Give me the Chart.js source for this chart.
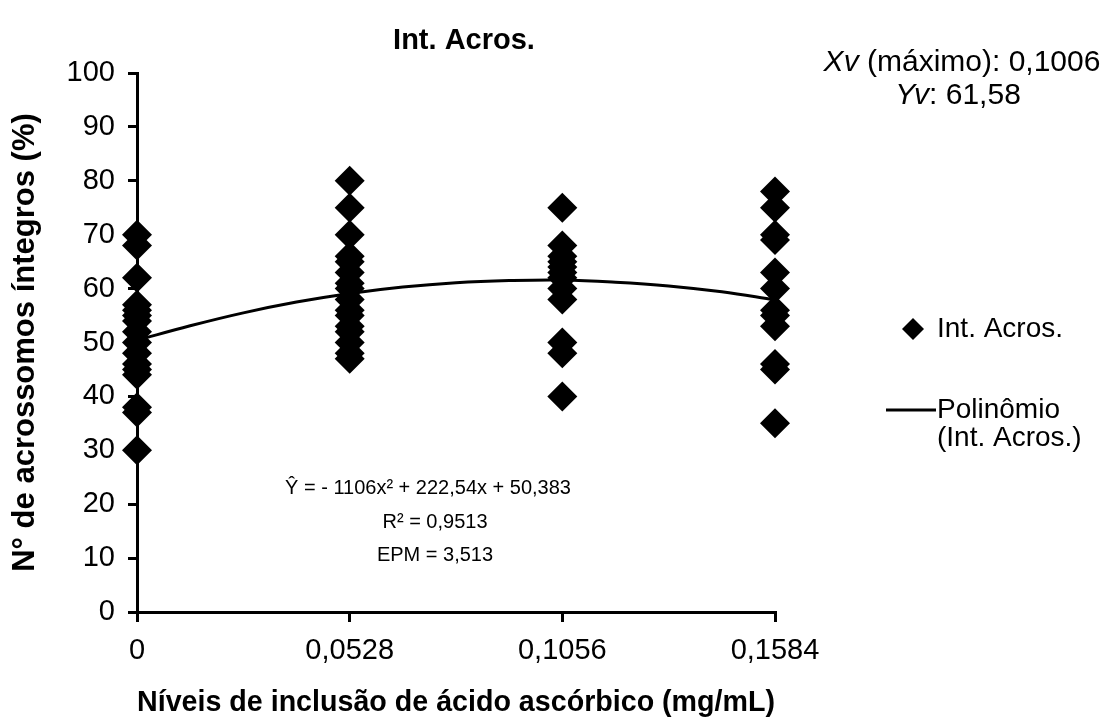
<!DOCTYPE html>
<html>
<head>
<meta charset="utf-8">
<script src="https://cdn.jsdelivr.net/npm/chart.js@4.4.1/dist/chart.umd.min.js"></script>
<style>
  html, body { margin: 0; padding: 0; background: #fff; }
</style>
</head>
<body>
<canvas id="chart" width="1114" height="720"></canvas>
<script>
// doses (mg/mL) and their tick labels
const doses = [0, 0.0528, 0.1056, 0.1584];
const doseLabels = ['0', '0,0528', '0,1056', '0,1584'];

// % intact acrosomes read per dose
const intAcros0 = [70, 68, 62, 57, 56, 55, 54, 52, 50, 48, 46, 45, 44, 38, 37, 30];
const intAcros1 = [80, 75, 70, 66, 65, 63, 61, 60, 58, 56, 55, 53, 52, 50, 48, 47];
const intAcros2 = [75, 68, 66, 65, 64, 63, 62, 60, 58, 50, 48, 40];
const intAcros3 = [78, 75, 70, 69, 63, 60, 56, 55, 53, 46, 45, 35];

// fitted curve
const trendX = [0, 0.0132, 0.0264, 0.0396, 0.0528, 0.066, 0.0792, 0.0924, 0.1056, 0.1188, 0.132, 0.1452, 0.1584];
const trendY = [50.4, 53.1, 55.5, 57.5, 59.1, 60.3, 61.1, 61.5, 61.6, 61.2, 60.5, 59.4, 57.9];

const FONT = '"Liberation Sans", Arial, sans-serif';
Chart.defaults.font.family = FONT;
Chart.defaults.color = '#000';

const groups = [intAcros0, intAcros1, intAcros2, intAcros3];
const points = [];
groups.forEach((vals, i) => {
  vals.forEach((v) => points.push({ x: doses[i], y: v }));
});

const annotations = {
  id: 'annotations',
  afterDraw(chart) {
    const { ctx } = chart;
    const y = chart.scales.y;
    ctx.save();
    ctx.fillStyle = '#000';
    ctx.strokeStyle = '#000';
    ctx.textBaseline = 'middle';

    // title
    ctx.font = 'bold 29px ' + FONT;
    ctx.textAlign = 'center';
    ctx.fillText('Int. Acros.', 464, y.getPixelForValue(106));

    // vertex of the parabola, italic prefix
    const mixed = (italic, rest, cx, py) => {
      ctx.font = 'italic 30px ' + FONT;
      const w1 = ctx.measureText(italic).width;
      ctx.font = '30px ' + FONT;
      const w2 = ctx.measureText(rest).width;
      const x0 = cx - (w1 + w2) / 2;
      ctx.textAlign = 'left';
      ctx.font = 'italic 30px ' + FONT;
      ctx.fillText(italic, x0, py);
      ctx.font = '30px ' + FONT;
      ctx.fillText(rest, x0 + w1, py);
    };
    mixed('Xv', ' (máximo): 0,1006', 962, y.getPixelForValue(101.9));
    mixed('Yv', ': 61,58', 958, y.getPixelForValue(95.8));

    // equation
    ctx.font = '20px ' + FONT;
    ctx.textAlign = 'center';
    ctx.fillText('Ŷ = - 1106x² + 222,54x + 50,383', 428, y.getPixelForValue(22.9));
    ctx.fillText('R² = 0,9513', 435, y.getPixelForValue(16.6));
    ctx.fillText('EPM = 3,513', 435, y.getPixelForValue(10.5));

    // legend
    const ly1 = y.getPixelForValue(52.5);
    ctx.beginPath();
    ctx.moveTo(913 - 11, ly1);
    ctx.lineTo(913, ly1 - 11);
    ctx.lineTo(913 + 11, ly1);
    ctx.lineTo(913, ly1 + 11);
    ctx.closePath();
    ctx.fill();
    ctx.font = '28px ' + FONT;
    ctx.textAlign = 'left';
    ctx.fillText('Int. Acros.', 937, ly1);

    const ly2 = y.getPixelForValue(37.5);
    ctx.lineWidth = 3;
    ctx.beginPath();
    ctx.moveTo(886, ly2);
    ctx.lineTo(936, ly2);
    ctx.stroke();
    ctx.fillText('Polinômio', 937, ly2);
    ctx.fillText('(Int. Acros.)', 937, y.getPixelForValue(32.3));
    ctx.restore();
  }
};

new Chart(document.getElementById('chart'), {
  type: 'scatter',
  data: {
    datasets: [
      {
        label: 'Int. Acros.',
        data: points,
        pointStyle: 'rectRot',
        pointRadius: 15,
        pointHoverRadius: 15,
        backgroundColor: '#000',
        borderColor: '#000',
        borderWidth: 0,
        clip: false,
        order: 0,
      },
      {
        type: 'line',
        label: 'Polinômio (Int. Acros.)',
        data: trendX.map((x, i) => ({ x, y: trendY[i] })),
        borderColor: '#000',
        borderWidth: 3,
        pointRadius: 0,
        tension: 0.4,
        fill: false,
        clip: false,
        order: 1,
      },
    ],
  },
  options: {
    responsive: false,
    animation: false,
    events: [],
    layout: { padding: { left: 0, right: 339, top: 73, bottom: 0 } },
    plugins: {
      legend: { display: false },
      tooltip: { enabled: false },
    },
    scales: {
      x: {
        type: 'linear',
        min: 0,
        max: 0.1584,
        afterBuildTicks: (s) => { s.ticks = doses.map((v) => ({ value: v })); },
        afterFit: (s) => { s.height = 108; },
        ticks: {
          callback: (v, i) => doseLabels[i],
          font: { size: 29 },
          color: '#000',
          padding: 12,
          maxRotation: 0,
          autoSkip: false,
        },
        grid: { drawOnChartArea: false, color: '#000', lineWidth: 3, tickLength: 10 },
        border: { color: '#000', width: 3 },
        title: {
          display: true,
          text: 'Níveis de inclusão de ácido ascórbico (mg/mL)',
          font: { size: 29, weight: 'bold' },
          color: '#000',
          padding: { top: 0, bottom: 0 },
        },
      },
      y: {
        min: 0,
        max: 100,
        afterFit: (s) => { s.width = 137; },
        ticks: {
          stepSize: 10,
          font: { size: 29 },
          color: '#000',
          padding: 13,
        },
        grid: { drawOnChartArea: false, color: '#000', lineWidth: 3, tickLength: 9 },
        border: { color: '#000', width: 3 },
        title: {
          display: true,
          text: 'N° de acrossomos íntegros (%)',
          font: { size: 31, weight: 'bold' },
          color: '#000',
          padding: { top: 7, bottom: 0 },
        },
      },
    },
  },
  plugins: [annotations],
});
</script>
</body>
</html>
